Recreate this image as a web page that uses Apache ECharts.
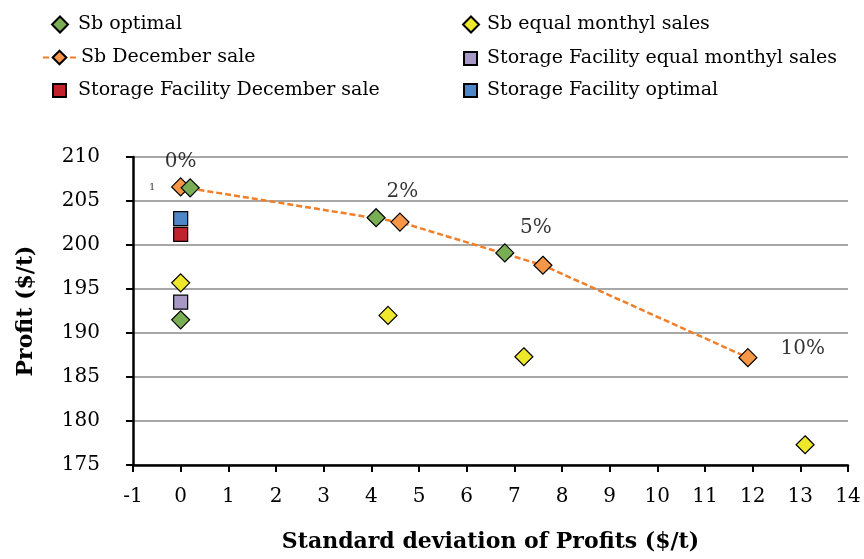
<!DOCTYPE html>
<html>
<head>
<meta charset="utf-8">
<script src="https://cdn.jsdelivr.net/npm/echarts@6/dist/echarts.min.js"></script>
<style>
  html, body { margin: 0; padding: 0; background: #fff; }
  #main { width: 864px; height: 559px; }
</style>
</head>
<body>
<div id="main"></div>
<script>
// data: [std dev, profit]
var sbOptimal = [[0, 191.5], [0.2, 206.5], [4.1, 203.1], [6.8, 199.1]];
var sbEqual = [[0, 195.7], [4.35, 192.0], [7.2, 187.3], [13.1, 177.3]];
var sbDecember = [[0, 206.6], [4.6, 202.6], [7.6, 197.7], [11.9, 187.2]];
var sfEqual = [[0, 193.5]];
var sfDecember = [[0, 201.2]];
var sfOptimal = [[0, 203.0]];
// text notes placed on the chart: [x, y, text]
var notes = [[0, 209.4, '0%'], [4.65, 206.0, '2%'], [7.45, 201.9, '5%'], [13.05, 188.2, '10%']];
var smallNote = [[-0.6, 206.6, '1']];

var xMin = -1, xMax = 14, yMin = 175, yMax = 210;

var FONT = 'DejaVu Serif';
var myChart = echarts.init(document.getElementById('main'));

function scatter(name, data, symbol, size, color) {
  return {
    name: name,
    type: 'scatter',
    data: data,
    symbol: symbol,
    symbolSize: size,
    itemStyle: { color: color, borderColor: '#000', borderWidth: 1.2, opacity: 1 },
    z: 3
  };
}

// one legend per entry so every row/column sits where it does in the picture
function legendItem(name, left, top, w, h, pad) {
  return {
    left: left, top: top,
    itemWidth: w, itemHeight: h,
    textStyle: { fontFamily: FONT, fontSize: 19, color: '#000', padding: [0, 0, 0, pad] },
    data: [name]
  };
}

var option = {
  animation: false,
  backgroundColor: '#fff',
  textStyle: { fontFamily: FONT },
  grid: { left: 133, right: 16, top: 157, bottom: 94, containLabel: false },
  legend: [
    legendItem('Sb optimal', 46, 10, 16, 16, 5),
    legendItem('Sb December sale', 37, 43, 33, 17, 0),
    legendItem('Storage Facility December sale', 47, 76, 13, 13, 7),
    legendItem('Sb equal monthyl sales', 457, 10, 16, 16, 3),
    legendItem('Storage Facility equal monthyl sales', 458, 44, 13, 13, 5),
    legendItem('Storage Facility optimal', 458, 76, 13, 13, 5)
  ],
  xAxis: {
    type: 'value',
    min: xMin, max: xMax, interval: 1,
    name: 'Standard deviation of Profits ($/t)',
    nameLocation: 'middle',
    nameGap: 66,
    nameTextStyle: { fontFamily: FONT, fontWeight: 'bold', fontSize: 22, color: '#000' },
    axisLine: { onZero: false, lineStyle: { color: '#000', width: 2.5 } },
    axisTick: { show: true, length: 7, lineStyle: { color: '#000', width: 2 } },
    axisLabel: { fontFamily: FONT, fontSize: 20, color: '#000', margin: 22 },
    splitLine: { show: false }
  },
  yAxis: {
    type: 'value',
    min: yMin, max: yMax, interval: 5,
    name: 'Profit ($/t)',
    nameLocation: 'middle',
    nameGap: 96,
    nameRotate: 90,
    nameTextStyle: { fontFamily: FONT, fontWeight: 'bold', fontSize: 22, color: '#000' },
    axisLine: { show: true, onZero: false, lineStyle: { color: '#000', width: 2.5 } },
    axisTick: { show: true, length: 7, lineStyle: { color: '#000', width: 2 } },
    axisLabel: { fontFamily: FONT, fontSize: 20, color: '#000', margin: 33 },
    splitLine: { show: true, lineStyle: { color: '#8a8a8a', width: 1.5 } }
  },
  series: [
    scatter('Sb optimal', sbOptimal, 'diamond', 18, '#7AAE55'),
    {
      name: 'Sb December sale',
      type: 'line',
      data: sbDecember,
      symbol: 'diamond',
      symbolSize: 18,
      showAllSymbol: true,
      lineStyle: { color: '#F07F2A', width: 2.5, type: [6, 3] },
      itemStyle: { color: '#F79646', borderColor: '#000', borderWidth: 1.2 },
      z: 2
    },
    scatter('Storage Facility December sale', sfDecember, 'rect', 14, '#C0232B'),
    scatter('Sb equal monthyl sales', sbEqual, 'diamond', 18, '#EEE82C'),
    scatter('Storage Facility equal monthyl sales', sfEqual, 'rect', 14, '#A898C6'),
    scatter('Storage Facility optimal', sfOptimal, 'rect', 14, '#4F86C6'),
    {
      name: 'notes',
      type: 'scatter',
      data: notes,
      symbolSize: 1,
      itemStyle: { color: 'rgba(0,0,0,0)' },
      label: {
        show: true, position: 'inside',
        formatter: function (p) { return p.data[2]; },
        fontFamily: FONT, fontSize: 20, color: '#000'
      },
      silent: true, z: 5
    },
    {
      name: 'small note',
      type: 'scatter',
      data: smallNote,
      symbolSize: 1,
      itemStyle: { color: 'rgba(0,0,0,0)' },
      label: {
        show: true, position: 'inside',
        formatter: function (p) { return p.data[2]; },
        fontFamily: FONT, fontSize: 10, color: '#000'
      },
      silent: true, z: 5
    }
  ]
};
myChart.setOption(option);
</script>
</body>
</html>
